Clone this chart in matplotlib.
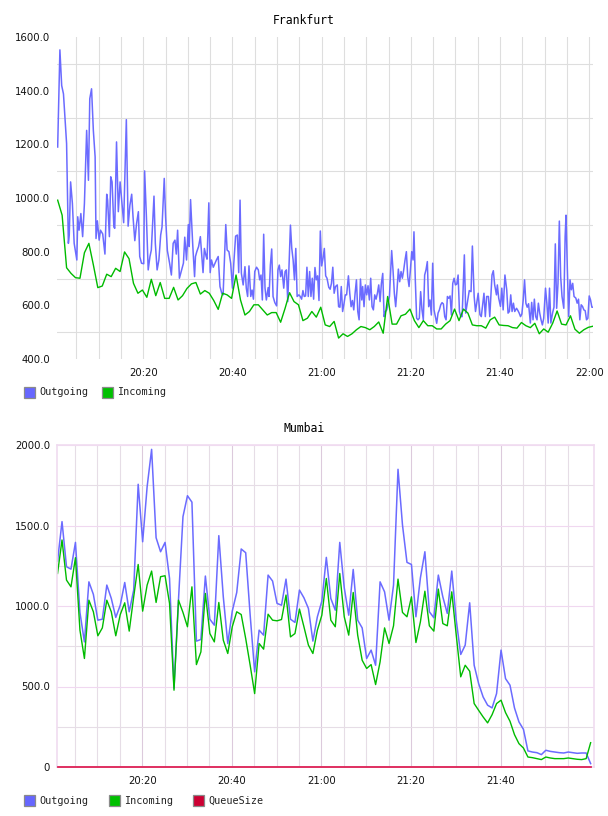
import numpy as np
import matplotlib.pyplot as plt
from matplotlib.patches import Rectangle

# ---- data (time = minutes after 20:00) ----

# Frankfurt outgoing, irregular samples
fra_out_t = [0.8, 1.3, 1.7, 2.1, 2.8, 3.2, 3.4, 3.7, 4.1, 4.5, 5.1, 5.3, 5.6, 6.0, 6.4,
             6.8, 7.3, 7.7, 8.0, 8.4, 8.8, 9.2, 9.4, 9.7, 10.1, 10.4, 10.9, 11.4, 11.8, 12.0,
             12.4, 12.7, 13.0, 13.4, 13.6, 14.0, 14.4, 14.8, 15.1, 15.6, 16.2, 16.6, 17.0, 17.4, 17.7,
             18.1, 18.5, 18.9, 19.2, 19.6, 20.1, 20.3, 20.7, 21.1, 21.5, 21.8, 22.4, 22.7, 23.1, 23.5,
             23.9, 24.2, 24.7, 25.0, 25.4, 25.9, 26.3, 26.7, 27.1, 27.4, 27.7, 28.1, 28.6, 29.0, 29.3,
             29.7, 30.1, 30.3, 30.6, 31.1, 31.5,
             31.7, 32.0, 32.4, 32.8, 33.2, 33.4, 33.7, 34.1, 34.3, 34.7, 35.0, 35.3, 35.7, 36.1, 36.4,
             36.8, 37.2, 37.6, 37.9, 38.5, 38.8, 39.2, 39.6, 40.0, 40.3, 40.7, 41.1, 41.4, 41.7, 42.0,
             42.4, 42.8, 43.1, 43.4, 43.7, 44.1, 44.4, 44.7, 45.0, 45.4, 45.8, 46.1, 46.4, 46.7, 47.0,
             47.3, 47.6, 48.0, 48.2, 48.5, 48.8, 49.1, 49.5, 49.9, 50.2, 50.5, 50.8, 51.1, 51.5, 51.8,
             52.1, 52.4, 52.7, 53.0, 53.3, 53.6, 53.9, 54.2, 54.5, 54.9, 55.2, 55.5, 55.8, 56.1, 56.4,
             56.7, 57.0, 57.3, 57.6, 57.9, 58.2, 58.5, 58.8, 59.1, 59.4, 59.7, 60.0, 60.3, 60.6, 60.9,
             61.2,
             61.6, 61.9, 62.2, 62.5, 62.8, 63.1, 63.5, 63.8, 64.1, 64.4, 64.7, 65.0, 65.3, 65.6, 66.0,
             66.3, 66.6, 66.9, 67.2, 67.5, 67.8, 68.1, 68.4, 68.7, 69.0, 69.2, 69.5, 69.8, 70.1, 70.4,
             70.7, 71.0, 71.3, 71.6, 71.9, 72.2, 72.5, 72.8, 73.1, 73.4, 73.7, 74.0, 74.3, 74.6, 74.9,
             75.2, 75.5, 75.7, 76.0, 76.3, 76.6, 76.9, 77.2, 77.5, 77.8, 78.1, 78.4, 78.7, 79.0, 79.3,
             79.6, 79.9, 80.2, 80.5, 80.7, 81.0, 81.3, 81.6, 81.9, 82.2, 82.5, 82.8, 83.1, 83.4, 83.7,
             84.0, 84.3, 84.6, 84.9, 85.2, 85.5, 85.8, 86.1, 86.4, 86.7, 87.0, 87.3, 87.6, 87.9, 88.2,
             88.5, 88.8, 89.1, 89.4, 89.7, 90.0, 90.3, 90.6, 90.9, 91.2, 91.5,
             92.0, 92.3, 93.1, 93.5, 93.8, 94.2, 94.5, 95.1, 95.5, 95.8, 96.4, 96.7, 97.0, 97.4, 97.7,
             98.2, 98.5, 98.8, 99.2, 99.4, 99.7, 100.1, 100.4, 100.7, 101.1, 101.5, 101.8, 102.1, 102.4, 102.7,
             103.0, 103.3, 103.7, 104.0, 104.3, 104.6, 104.9, 105.2, 105.5, 105.8, 106.1, 106.4, 106.8, 107.1, 107.4,
             107.7, 108.0, 108.3, 108.6, 108.9, 109.2, 109.5, 109.8, 110.2, 110.5, 110.8, 111.1, 111.4, 111.8, 112.1,
             112.4, 112.7, 113.0, 113.3, 113.6, 113.9, 114.3, 114.6, 114.8, 115.1, 115.4, 115.7, 116.0, 116.3, 116.6,
             117.0, 117.3, 117.6, 117.9, 118.2, 118.5, 118.8, 119.1, 119.4, 119.7, 120.0, 120.3, 120.6, 120.9]
fra_out = [1190, 1552, 1419, 1388, 1203, 831, 862, 1060, 980, 831, 769, 930, 880, 942, 856,
           980, 1252, 1066, 1370, 1407, 1252, 1153, 849, 915, 843, 880, 866, 791, 1014, 992,
           856, 1079, 1060, 892, 887, 1209, 949, 1060, 1004, 908, 1292, 895, 973, 1014, 930,
           841, 905, 949, 782, 757, 755, 1101, 930, 732, 782, 806, 1007, 831, 732, 769,
           862, 892, 1073, 930, 804, 757, 713, 831, 843, 791, 880, 701, 732, 757, 854,
           769, 901, 819, 994, 822, 707,
           782, 800, 819, 856, 769, 722, 812, 782, 772, 982, 722, 769, 742, 757, 769,
           782, 670, 645, 639, 901, 806, 800, 757, 664, 757, 858, 862, 722, 992, 719,
           676, 744, 664, 633, 747, 633, 657, 623, 726, 742, 732, 695, 713, 620, 865,
           664, 620, 666, 633, 750, 810, 633, 610, 598, 732, 750, 707, 732, 664, 726,
           732, 614, 757, 899, 812, 769, 695, 812, 633, 639, 633, 623, 655, 633, 635,
           742, 633, 726, 633, 701, 623, 741, 695, 710, 618, 877, 747, 775, 812, 710,
           701,
           667, 660, 682, 742, 645, 670, 676, 595, 593, 670, 577, 605, 639, 639, 710,
           645, 595, 618, 583, 645, 695, 577, 546, 698, 620, 670, 595, 676, 639, 673,
           620, 701, 595, 583, 639, 623, 645, 676, 614, 682, 719, 558, 577, 583, 608,
           633, 732, 804, 732, 645, 595, 657, 735, 688, 726, 701, 732, 769, 800, 707,
           670, 732, 800, 769, 874, 695, 552, 546, 552, 651, 583, 546, 713, 732, 763,
           595, 620, 564, 757, 583, 558, 533, 571, 583, 602, 610, 605, 558, 546, 633,
           626, 635, 564, 682, 701, 676, 679, 713, 577, 558, 558,
           788, 571, 655, 651, 821, 633, 577, 645, 565, 558, 645, 558, 633, 633, 558,
           713, 729, 676, 639, 676, 627, 596, 664, 583, 713, 658, 571, 577, 639, 577,
           608, 577, 589, 581, 571, 558, 568, 620, 695, 608, 593, 606, 534, 611, 546,
           623, 558, 546, 608, 571, 546, 527, 552, 664, 608, 534, 664, 534, 573, 593,
           829, 589, 682, 914, 707, 633, 589, 856, 936, 732, 558, 695, 658, 682, 633,
           627, 608, 623, 546, 602, 596, 583, 580, 546, 552, 635, 620, 593, 593]

# Frankfurt incoming, one sample per minute
fra_in_start = 0.8
fra_in = [992, 936, 740, 719, 703, 701, 796, 831, 751, 666, 672, 716, 707, 738, 726, 799,
          774, 682, 645, 657, 630, 697, 636, 685, 626, 626, 667, 620, 636, 663, 680,
          685, 642, 655, 645, 618, 585, 645, 639, 626, 713, 620, 564, 577, 602, 602,
          583, 564, 573, 573, 537, 589, 647, 614, 602, 543, 552, 577, 556, 593, 527,
          521, 540, 478, 494, 484, 494, 509, 521, 517, 509, 521, 538, 496, 633, 530,
          530, 561, 567, 586, 543, 517, 543, 524, 524, 512, 512, 530, 543, 586, 543,
          586, 571, 527, 524, 524, 515, 546, 556, 527, 525, 524, 517, 515, 536, 524,
          517, 533, 494, 512, 500, 533, 579, 530, 527, 561, 511, 496, 509, 518, 522]

# Mumbai, one sample per minute
mum_start = 1.1
mum_out = [1279, 1524, 1244, 1229, 1395, 960, 777, 1150, 1072, 912, 918, 1130, 1047, 929, 1005,
           1146, 964, 1099, 1756, 1399, 1741, 1973, 1424, 1337, 1395, 1171, 490, 1040, 1555, 1685,
           1645, 782, 792, 1186, 918, 881, 1437, 1057, 767, 968, 1084, 1354, 1331, 943, 591,
           850, 819, 1192, 1155, 1016, 1005, 1167, 918, 898, 1099, 1051, 985, 782, 933, 1030,
           1302, 1047, 974, 1395, 1113, 943, 1227, 912, 864, 674, 726, 632, 1150, 1088, 912,
           1130, 1849, 1503, 1271, 1258, 933, 1175, 1337, 964, 927, 1192, 1057, 954, 1217, 912,
           699, 757, 1020, 632, 518, 435, 384, 367, 456, 726, 549, 508, 367, 280, 234,
           100, 93, 89, 77, 104, 97, 93, 89, 87, 93, 89, 85, 87, 87, 21]
mum_in = [1202, 1410, 1161, 1119, 1300, 850, 674, 1036, 964, 815, 864, 1036, 964, 815, 947,
          1020, 844, 1057, 1258, 968, 1130, 1217, 1022, 1182, 1188, 1016, 477, 1036, 960, 871,
          1119, 636, 715, 1078, 829, 777, 1022, 788, 705, 871, 964, 947, 798, 632, 456,
          767, 732, 949, 912, 908, 916, 1068, 808, 829, 981, 871, 757, 705, 850, 943,
          1171, 912, 871, 1202, 933, 819, 1084, 819, 663, 612, 636, 512, 653, 864, 767,
          877, 1167, 960, 933, 1057, 773, 902, 1092, 877, 844, 1105, 891, 877, 1088, 819,
          560, 632, 595, 394, 352, 311, 274, 325, 394, 415, 338, 284, 201, 145, 118,
          62, 58, 52, 46, 62, 56, 52, 52, 52, 56, 52, 48, 46, 52, 151]
mum_queue = [0] * 120

fra_yticks = [400, 600, 800, 1000, 1200, 1400, 1600]
fra_ylabels = ['400.0', '600.0', '800.0', '1000.0', '1200.0', '1400.0', '1600.0']
fra_ygrid = [500, 700, 900, 1100, 1300, 1500]
mum_yticks = [0, 500, 1000, 1500, 2000]
mum_ylabels = ['0', '500.0', '1000.0', '1500.0', '2000.0']
mum_ygrid = [250, 750, 1250, 1750]
xtick_min = [20, 40, 60, 80, 100, 120]
xtick_labels = ['20:20', '20:40', '21:00', '21:20', '21:40', '22:00']

# ---- style ----
BLUE = '#6b6bff'
GREEN = '#00bb00'
RED = '#dd2255'
MONO = 'DejaVu Sans Mono'
W, H = 608, 816

fig = plt.figure(figsize=(W / 100, H / 100), dpi=100)


def box(x0, y0, x1, y1):
    # pixel box (from top-left) -> figure fraction rect
    return [x0 / W, 1 - y1 / H, (x1 - x0) / W, (y1 - y0) / H]


def legend(yc, items):
    for x, name, color in items:
        fig.patches.append(Rectangle((x / W, 1 - (yc + 5.5) / H), 11 / W, 11 / H,
                                     transform=fig.transFigure, facecolor=color,
                                     edgecolor='#8a8a8a', lw=0.9))
        fig.text((x + 15) / W, 1 - yc / H, name, ha='left', va='center',
                 family=MONO, fontsize=7.3, color='#222222')


# Frankfurt
ax1 = fig.add_axes(box(57, 37, 593, 359))
ax1.plot(fra_out_t, fra_out, color=BLUE, lw=1.1)
ax1.plot(fra_in_start + np.arange(len(fra_in)), fra_in, color=GREEN, lw=1.0)
ax1.set_xlim(0.65, 120.85)
ax1.set_ylim(400, 1600)
ax1.set_yticks(fra_yticks, fra_ylabels)
ax1.set_yticks(fra_ygrid, minor=True)
ax1.set_xticks(xtick_min, xtick_labels)
ax1.set_xticks(np.arange(5, 121, 5), minor=True)
ax1.set_axisbelow(True)
ax1.grid(which='minor', color='#dedede', lw=0.8)
ax1.grid(which='major', axis='x', color='#dedede', lw=0.8)
for s in ax1.spines.values():
    s.set_visible(False)
ax1.tick_params(which='both', length=0, labelsize=7.3, colors='#111111')
ax1.tick_params(axis='y', pad=5)
ax1.tick_params(axis='x', pad=6.5)
fig.text(0.5, 1 - 20.5 / H, 'Frankfurt', ha='center', va='center', family=MONO, fontsize=8.3)
legend(392.5, [(24, 'Outgoing', '#6666ff'), (102, 'Incoming', '#00c000')])

# Mumbai
ax2 = fig.add_axes(box(57, 445, 594, 767))
t = mum_start + np.arange(len(mum_out))
ax2.plot(t, mum_out, color=BLUE, lw=1.1)
ax2.plot(t, mum_in, color=GREEN, lw=1.0)
ax2.plot(t, mum_queue, color=RED, lw=1.3, clip_on=False, zorder=4)
ax2.set_xlim(0.98, 120.85)
ax2.set_ylim(0, 2000)
ax2.set_yticks(mum_yticks, mum_ylabels)
ax2.set_yticks(mum_ygrid, minor=True)
ax2.set_xticks(xtick_min[:-1], xtick_labels[:-1])
ax2.set_xticks(np.arange(5, 120, 5), minor=True)
ax2.set_axisbelow(True)
ax2.grid(which='major', axis='y', color='#f0d8f0', lw=0.8)
ax2.grid(which='major', axis='x', color='#dccadc', lw=0.8)
ax2.grid(which='minor', color='#e6dde6', lw=0.8)
for s in ax2.spines.values():
    s.set_color('#f0dcf0')
    s.set_linewidth(1.2)
ax2.tick_params(which='both', length=0, labelsize=7.3, colors='#111111')
ax2.tick_params(axis='y', pad=5)
ax2.tick_params(axis='x', pad=6.5)
fig.text(0.5, 1 - 429 / H, 'Mumbai', ha='center', va='center', family=MONO, fontsize=8.3)
legend(800.5, [(24, 'Outgoing', '#6666ff'), (109, 'Incoming', '#00c000'),
               (193, 'QueueSize', '#cc0033')])

fig.savefig('out.png', dpi=100)
